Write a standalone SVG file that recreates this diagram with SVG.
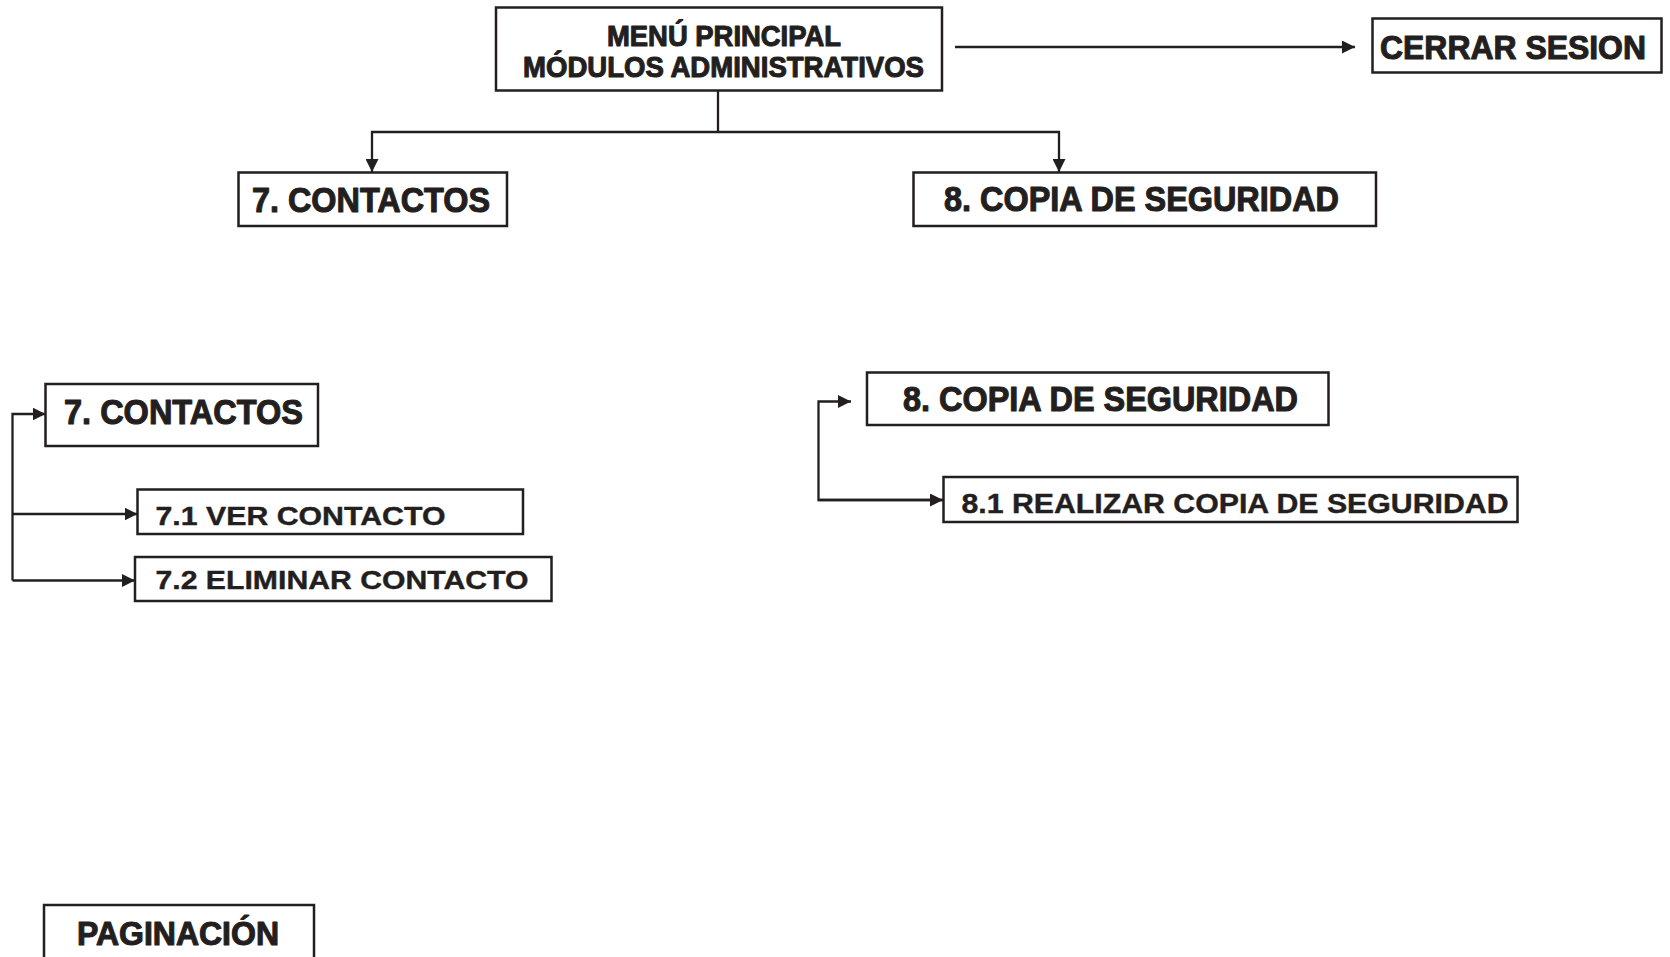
<svg xmlns="http://www.w3.org/2000/svg" width="1670" height="957" viewBox="0 0 1670 957">
<style>
.box{fill:#fff;stroke:#231f20;stroke-width:2.5}
.t{font-family:"Liberation Sans",Arial,sans-serif;font-weight:bold;fill:#231f20;stroke:#231f20;stroke-width:1.1;stroke-linejoin:round}
.s{stroke-width:0.4}
.c{fill:none;stroke:#231f20;stroke-width:2.3}
</style>
<defs>
<marker id="ah" markerUnits="userSpaceOnUse" markerWidth="14" markerHeight="13" refX="13" refY="6.5" orient="auto">
<path d="M0,0 L13,6.5 L0,13 z" fill="#231f20"/>
</marker>
</defs>
<rect width="1670" height="957" fill="#fff"/>
<g id="connectors">
<path class="c" d="M718,90.5 V132"/>
<path class="c" d="M718,132 H372 V172" marker-end="url(#ah)"/>
<path class="c" d="M718,132 H1059 V172" marker-end="url(#ah)"/>
<path class="c" d="M955,47 H1355" marker-end="url(#ah)"/>
<path class="c" d="M12.5,580.5 V414 H45.5" marker-end="url(#ah)"/>
<path class="c" d="M12.5,514 H137.5" marker-end="url(#ah)"/>
<path class="c" d="M12.5,580.5 H135" marker-end="url(#ah)"/>
<path class="c" d="M943.5,500 H818.5 V401.5 H851" marker-end="url(#ah)"/>
<path class="c" d="M818.5,500 H943" marker-end="url(#ah)"/>
</g>
<g id="menu-principal">
<rect class="box" x="496" y="7.5" width="446" height="83"/>
<text class="t" x="607" y="46" font-size="30" textLength="234" lengthAdjust="spacingAndGlyphs">MENÚ PRINCIPAL</text>
<text class="t" x="523" y="77" font-size="30" textLength="401" lengthAdjust="spacingAndGlyphs">MÓDULOS ADMINISTRATIVOS</text>
</g>
<g id="cerrar-sesion">
<rect class="box" x="1372.5" y="18.5" width="289" height="54"/>
<text class="t" x="1380" y="58.5" font-size="34" textLength="266" lengthAdjust="spacingAndGlyphs">CERRAR SESION</text>
</g>
<g id="contactos-top">
<rect class="box" x="238.5" y="172.5" width="268.5" height="53.5"/>
<text class="t" x="252" y="212" font-size="35" textLength="238" lengthAdjust="spacingAndGlyphs">7. CONTACTOS</text>
</g>
<g id="copia-top">
<rect class="box" x="913.5" y="172.5" width="462.5" height="53.5"/>
<text class="t" x="944" y="211" font-size="35" textLength="395" lengthAdjust="spacingAndGlyphs">8. COPIA DE SEGURIDAD</text>
</g>
<g id="contactos">
<rect class="box" x="45.5" y="384" width="272.5" height="62"/>
<text class="t" x="64" y="424" font-size="35" textLength="239" lengthAdjust="spacingAndGlyphs">7. CONTACTOS</text>
</g>
<g id="ver-contacto">
<rect class="box" x="137.5" y="489.5" width="385.5" height="44.5"/>
<text class="t s" x="155.5" y="525" font-size="25" textLength="290" lengthAdjust="spacingAndGlyphs">7.1 VER CONTACTO</text>
</g>
<g id="eliminar-contacto">
<rect class="box" x="135" y="557" width="416.5" height="44"/>
<text class="t s" x="155.5" y="588.5" font-size="25" textLength="373" lengthAdjust="spacingAndGlyphs">7.2 ELIMINAR CONTACTO</text>
</g>
<g id="copia">
<rect class="box" x="867" y="372.5" width="461.5" height="52.5"/>
<text class="t" x="903" y="411" font-size="35" textLength="395" lengthAdjust="spacingAndGlyphs">8. COPIA DE SEGURIDAD</text>
</g>
<g id="realizar-copia">
<rect class="box" x="943.5" y="477" width="574" height="45"/>
<text class="t s" x="961.5" y="513" font-size="27" textLength="547" lengthAdjust="spacingAndGlyphs">8.1 REALIZAR COPIA DE SEGURIDAD</text>
</g>
<g id="paginacion">
<rect class="box" x="44" y="905" width="270" height="60"/>
<text class="t" x="77" y="945" font-size="33" textLength="202" lengthAdjust="spacingAndGlyphs">PAGINACIÓN</text>
</g>
</svg>
